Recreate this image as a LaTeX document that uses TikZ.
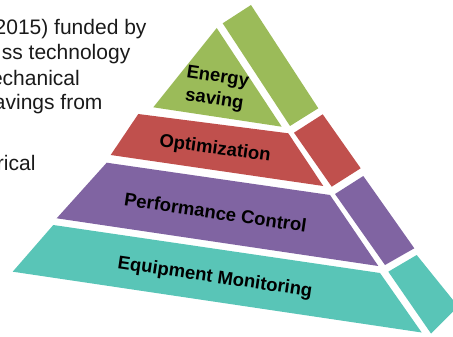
\documentclass[tikz,border=0pt]{standalone}
\usepackage{fontspec}
\setmainfont{Liberation Sans}
\definecolor{cgreen}{HTML}{9BBB59}
\definecolor{cred}{HTML}{C0504D}
\definecolor{cpurple}{HTML}{8064A2}
\definecolor{cteal}{HTML}{59C5B7}
\definecolor{ctext}{HTML}{1A1A1A}
\tikzset{
  bodytext/.style={anchor=base east, inner sep=0pt, text=ctext, font=\fontsize{21}{21}\selectfont},
  lab/.style={inner sep=0pt, text=black, font=\bfseries\fontsize{18.5}{23}\selectfont, align=center},
}
\begin{document}
\begin{tikzpicture}[x=1pt,y=-1pt]
\useasboundingbox (0,0) rectangle (453,337);
\clip (0,0) rectangle (453,337);
% left text (cut off)
\node[bodytext] (t1) at (146.7,35) {2015) funded by};
\node[bodytext] (t2) at (130.5,60) {ss technology};
\node[bodytext] (t3) at (80,85) {echanical};
\node[bodytext] (t4) at (102.7,110) {avings from};
\node[bodytext] (t6) at (35.7,170) {rical};
% green
\fill[cgreen] (216.7,28) -- (153.3,107.3) -- (281.7,126.7) -- cycle;
\fill[cgreen] (222.7,23.3) -- (251,5) -- (318.3,108.3) -- (290,126) -- cycle;
% red
\fill[cred] (138.3,114) -- (288.3,133.3) -- (323.3,186) -- (110.7,155) -- cycle;
\fill[cred] (294,132.7) -- (322.7,114.3) -- (360.7,168.3) -- (331.7,186.7) -- cycle;
% purple
\fill[cpurple] (106.7,162.7) -- (330,195) -- (378.3,266) -- (56.7,218.3) -- cycle;
\fill[cpurple] (335,194) -- (363.3,176) -- (414.3,248.3) -- (385,265) -- cycle;
% teal
\fill[cteal] (53.3,225) -- (380,273) -- (421.7,332.5) -- (12.7,271.7) -- cycle;
\fill[cteal] (388.3,271.7) -- (416.7,255) -- (453,300) -- (453,311.7) -- (431,333.5) -- cycle;
% labels
\node[lab, rotate=-8.5] (es) at (216,89) {Energy\\saving};
\node[lab, rotate=-7.8] (op) at (215,149) {Optimization};
\node[lab, rotate=-8.4] (pc) at (215.5,212.4) {Performance Control};
\node[lab, rotate=-8.4] (em) at (215,278) {Equipment Monitoring};
\end{tikzpicture}
\end{document}
